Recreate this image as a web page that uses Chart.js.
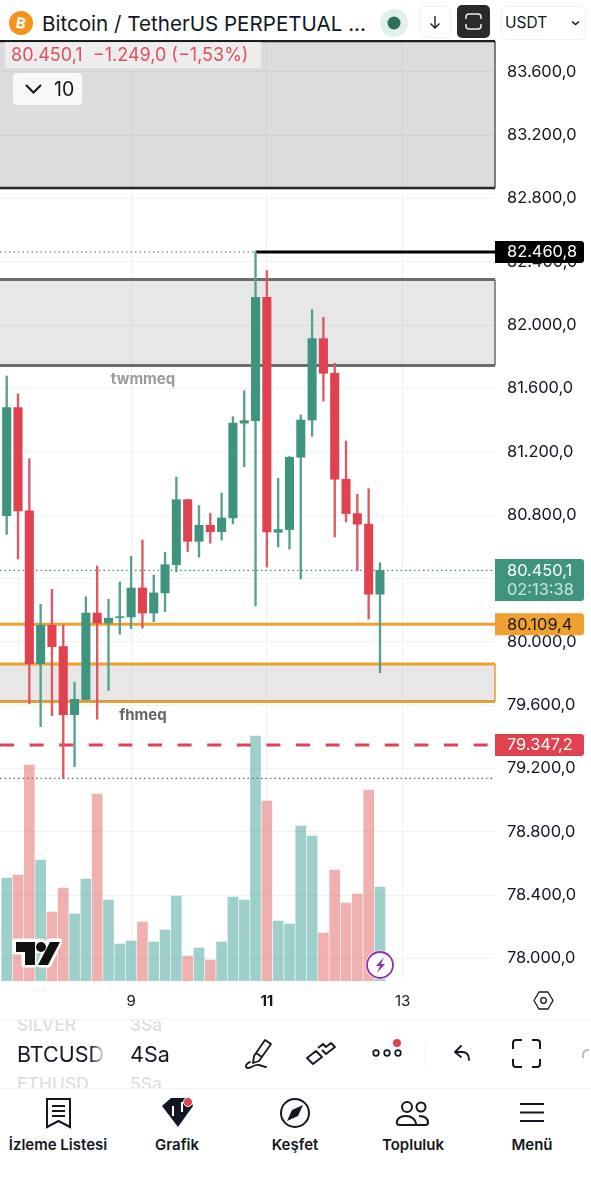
<!DOCTYPE html>
<html>
<head>
<meta charset="utf-8">
<title>BTC chart</title>
<script src="https://cdn.jsdelivr.net/npm/chart.js@4"></script>
<style>
    html, body { margin: 0; padding: 0; background: #fff; }
    body { width: 591px; height: 1200px; position: relative; overflow: hidden; font-family: Inter, sans-serif; color: #131722; }
    #chart { position: absolute; left: 0; top: 0; }
    .abs { position: absolute; white-space: nowrap; }
    .nav { position: absolute; top: 1135px; width: 120px; text-align: center; font-size: 15px; font-weight: 600; }
    .pale { color: #dcdcdc; font-size: 19px; font-weight: 500; }
</style>
</head>
<body>
<canvas id="chart" width="591" height="1020"></canvas>

<!-- header -->
<div class="abs" style="left:0;top:0;width:591px;height:40px;background:#fff"></div>
<svg class="abs" style="left:9px;top:11px" width="24" height="24"><circle cx="12" cy="12" r="12" fill="#f7931a"/><text x="12" y="17.5" fill="#fff" font-size="15" font-weight="700" text-anchor="middle" transform="rotate(12 12 12)">B</text></svg>
<div class="abs" style="left:42px;top:11px;font-size:20.6px;line-height:25px">Bitcoin / TetherUS PERPETUAL ...</div>
<svg class="abs" style="left:379px;top:9px" width="30" height="30"><circle cx="15" cy="14" r="14" fill="#e0f0ec"/><circle cx="15" cy="14" r="6.5" fill="#2b6e5c"/></svg>
<svg class="abs" style="left:419px;top:6px" width="32" height="32"><rect x=".5" y=".5" width="31" height="31" rx="5" fill="#fff" stroke="#f0f0f0"/><path d="M16 10v12M11.500 17.500l4.500 4.500 4.500-4.500" fill="none" stroke="#131722" stroke-width="1.300"/></svg>
<svg class="abs" style="left:457px;top:5px" width="33" height="33"><rect width="33" height="33" rx="5" fill="#2a2a2a"/><path d="M9 14v-2a3 3 0 0 1 3-3h9a3 3 0 0 1 3 3v2M9 19v2a3 3 0 0 0 3 3h9a3 3 0 0 0 3-3v-2" fill="none" stroke="#eee" stroke-width="1.500"/></svg>
<svg class="abs" style="left:501px;top:6px" width="85" height="34"><rect x=".5" y=".5" width="84" height="33" rx="5" fill="#fff" stroke="#f0f0f0"/><path d="M71 15.500l3.500 3 3.500-3" fill="none" stroke="#131722" stroke-width="1.500"/></svg>
<div class="abs" style="left:505px;top:13px;font-size:15.5px;line-height:20px">USDT</div>

<!-- status rows -->
<div class="abs" style="left:5px;top:42px;width:256px;height:26px;background:rgba(240,240,240,.85)"></div>
<div class="abs" style="left:11px;top:44px;font-size:18px;line-height:22px;color:#e0505c">80.450,1&nbsp; −1.249,0 (−1,53%)</div>
<div class="abs" style="left:13px;top:73px;width:69px;height:32px;background:#f8f8f8;border-radius:4px"></div>
<svg class="abs" style="left:24px;top:82px" width="20" height="14"><path d="M2 3l7.500 7.500L17 3" fill="none" stroke="#131722" stroke-width="2"/></svg>
<div class="abs" style="left:54px;top:78px;font-size:19.5px;line-height:22px">10</div>

<!-- watermark logo and bolt -->
<svg class="abs" style="left:12px;top:938px" width="50" height="31"><path d="M3 3h19v24h-10V14H3zM30 3l-4 0a5 5 0 1 0 4 0zM37 3h11L37 27H27z" fill="#fff" stroke="#fff" stroke-width="5" stroke-linejoin="round"/><path d="M4 4h19v23h-10V14H4z" fill="#111"/><circle cx="29" cy="9" r="5" fill="#111"/><path d="M38 4h10L36 27H26z" fill="#111"/></svg>
<svg class="abs" style="left:365px;top:950px" width="30" height="30"><circle cx="15" cy="15" r="14.500" fill="#fff"/><circle cx="15" cy="15" r="13" fill="#fff" stroke="#8e2fb0" stroke-width="1.800"/><path d="M19 7l-8 9h4l-3 7 8-9h-4z" fill="#8e2fb0"/></svg>

<!-- settings hex -->
<svg class="abs" style="left:533px;top:990px" width="21" height="21"><path d="M6 2h9l5 8.500-5 8.500H6L1 10.500z" fill="none" stroke="#131722" stroke-width="1.300" stroke-linejoin="round"/><circle cx="10.500" cy="10.500" r="2.800" fill="none" stroke="#131722" stroke-width="1.300"/></svg>

<!-- toolbar -->
<div class="abs" style="left:0;top:1019px;width:591px;height:1px;background:#f2f2f2"></div>
<div class="abs" style="left:0;top:1088px;width:591px;height:1px;background:#f2f2f2"></div>
<div class="abs" style="left:0;top:1020px;width:240px;height:68px;overflow:hidden">
    <div class="abs pale" style="left:17px;top:-7px;font-size:17.500px;line-height:24px;color:#dedede">SILVER</div>
    <div class="abs pale" style="left:130px;top:-7px;font-size:17.500px;line-height:24px;color:#dedede">3Sa</div>
    <div class="abs" style="left:17px;top:21px;width:89px;overflow:hidden;font-size:21.500px;line-height:26px;-webkit-mask-image:linear-gradient(90deg,#000 82%,transparent)">BTCUSD</div>
    <div class="abs" style="left:130px;top:21px;font-size:21.500px;line-height:26px">4Sa</div>
    <div class="abs pale" style="left:17px;top:52px;width:89px;overflow:hidden;font-size:17.500px;line-height:24px;color:#dedede;-webkit-mask-image:linear-gradient(90deg,#000 82%,transparent)">ETHUSD</div>
    <div class="abs pale" style="left:130px;top:52px;font-size:17.500px;line-height:24px;color:#dedede">5Sa</div>
</div>
<svg class="abs" style="left:242px;top:1035px" width="349" height="40" fill="none" stroke="#131722">
    <!-- pen -->
    <path d="M23 5l6 4-12 17-6 2 1-7zM14 18l6 4" stroke-width="1.800" stroke-linejoin="round"/>
    <path d="M8 27c-5 2-5 6-2 6 4 0 6-4 11-3 3 .5 5 2 7 2" stroke-width="1.800" stroke-linecap="round"/>
    <!-- line tools -->
    <path d="M65 23l9-7 6 6-9 7-6-6zM80 15l4 4 9-7-4-4-5 4-3-3-5 4" stroke-width="1.800" stroke-linejoin="round"/>
    <!-- more -->
    <circle cx="134" cy="18" r="2.800" stroke-width="1.700"/><circle cx="145" cy="18" r="2.800" stroke-width="1.700"/><circle cx="156" cy="18" r="2.800" stroke-width="1.700"/>
    <circle cx="155" cy="8" r="4" fill="#e0434f" stroke="none"/>
    <path d="M183 8v25" stroke="#f2f2f2"/>
    <!-- undo -->
    <path d="M219 11l-6 6 6 5M213 17h7c4 0 7 2 7 8" stroke-width="1.800" stroke-linecap="round" stroke-linejoin="round"/>
    <!-- fullscreen -->
    <path d="M271 14V8a3 3 0 0 1 3-3h6M290 5h5a3 3 0 0 1 3 3v6M298 24v5a3 3 0 0 1-3 3h-5M280 32h-6a3 3 0 0 1-3-3v-5" stroke-width="2"/>
    <path d="M341 23v-3c0-3 2-5 6-5" stroke="#bbb" stroke-width="1.800"/>
</svg>

<!-- bottom nav -->
<svg class="abs" style="left:0;top:1092px" width="591" height="40" fill="none" stroke="#131722" stroke-width="2">
    <path d="M47 7h23v28l-11.500-6L47 35zM52 14h13M52 19h13M52 24h13"/>
    <path d="M162 14l9-8h19l3 8-15 21z" fill="#131722" stroke="none"/>
    <path d="M173 14v10M182 10v10" stroke="#fff" stroke-width="2"/>
    <circle cx="188" cy="10" r="4.500" fill="#e0434f" stroke="#fff" stroke-width="1"/>
    <circle cx="295" cy="21" r="14"/>
    <path d="M303 13l-11 5-5 11 11-5z" fill="#131722" stroke="none"/>
    <circle cx="407" cy="15" r="5"/><circle cx="421" cy="15" r="4.500"/>
    <path d="M399 33c-4 0-3-9 7-9 5 0 10 3 10 9zM419 24c6 0 9 2 9 7 0 1-1 2-3 2h-8"/>
    <path d="M520 12h24M520 20.500h24M520 29h24"/>
</svg>
<div class="nav" style="left:-2px">İzleme Listesi</div>
<div class="nav" style="left:117px">Grafik</div>
<div class="nav" style="left:235px">Keşfet</div>
<div class="nav" style="left:353px">Topluluk</div>
<div class="nav" style="left:472px">Menü</div>

<script>
// candle data, oldest first, one candle every 4 hours
const opens  = [80796,81478,80826,79861,80104,79969,79539,79636,80181,80118,80152,80156,80339,80181,80308,80486,80897,80634,80735,80695,80781,81380,81396,82175,80691,80708,81165,81400,81914,81695,81026,80809,80742,80300];
const highs  = [81678,81565,81156,80236,80331,80106,79744,80284,80478,80268,80377,80539,80642,80421,80565,81040,80901,80860,80811,80939,81421,81585,82460.8,82343,81032,81169,81432,82097,82049,81758,81268,80931,80966,80499];
const lows   = [80678,80522,79609,79463,79533,79137,79211,79631,79510,79693,80047,80082,80085,80126,80190,80442,80569,80533,80622,80642,80744,81105,80226,80470,80598,80584,80396,81297,81520,80661,80756,80449,80143,79804];
const closes = [81478,80826,79861,80104,79969,79539,79636,80181,80118,80148,80158,80339,80181,80308,80486,80897,80634,80735,80695,80781,81380,81396,82175,80693,80708,81165,81400,81914,81695,81026,80809,80742,80300,80450.1];
const volumes = [103,106,216,121,69,93,67,102,187,81,37,40,59,39,51,85,25,33,21,39,84,81,245,180,60,57,155,145,48,111,78,87,191,94];

// axes
const priceTicks = [78000,78400,78800,79200,79600,80000,80400,80800,81200,81600,82000,82400,82800,83200,83600];
const dayTicks = [11, 23, 35];
const dayLabels = ['9', '11', '13'];

// zones and levels on the chart
const zoneTops    = [83794, 82287, 79859];
const zoneBottoms = [82865, 81744, 79622];
const orangeLevel = 80109.4;
const redLevel = 79347.2;
const highLevel = 82460.8;
const lowLevel = 79137;
const lastPrice = 80450.1;
const highIndex = 22;

const zoneNames = ['twmmeq', 'fhmeq'];
const zoneNamePrices = [81653, 79531];

const tagValues = [highLevel, lastPrice, orangeLevel, redLevel];

const GREEN = '#3f947f';
const RED = '#e0434f';
const ORANGE = '#f0a02f';
const X_MIN = -0.592, X_MAX = 43.17;
const PRICE_MIN = 77857, PRICE_MAX = 83800;

function formatPrice(v) {
    const [a, b] = v.toFixed(1).split('.');
    return a.slice(0, -3) + '.' + a.slice(-3) + ',' + b;
}

function levelLine(y, color, width, extra) {
    return Object.assign({
        type: 'line', data: [{ x: X_MIN, y: y }, { x: X_MAX, y: y }],
        borderColor: color, borderWidth: width, pointRadius: 0, clip: false, order: 5
    }, extra || {});
}

const isUp = opens.map((o, i) => closes[i] >= o);

const datasets = [
    // zones, top edge fills down to the bottom edge
    levelLine(zoneTops[0], '#1c1c1c', 2.5, { fill: '+1', backgroundColor: 'rgba(110,110,110,0.24)', order: 6 }),
    levelLine(zoneBottoms[0], '#1c1c1c', 2.5, { order: 6 }),
    levelLine(zoneTops[1], '#6c6c6c', 3, { fill: '+1', backgroundColor: 'rgba(110,110,110,0.17)', order: 6 }),
    levelLine(zoneBottoms[1], '#6c6c6c', 3, { order: 6 }),
    levelLine(zoneTops[2], ORANGE, 3, { fill: '+1', backgroundColor: 'rgba(110,110,110,0.17)', order: 6 }),
    levelLine(zoneBottoms[2], ORANGE, 3, { order: 6 }),
    // right edge of the zones
    { type: 'line', data: [{ x: X_MAX, y: zoneTops[0] }, { x: X_MAX, y: zoneBottoms[0] }], borderColor: '#555', borderWidth: 1.5, pointRadius: 0, clip: false, order: 6 },
    { type: 'line', data: [{ x: X_MAX, y: zoneTops[1] }, { x: X_MAX, y: zoneBottoms[1] }], borderColor: '#6c6c6c', borderWidth: 1.5, pointRadius: 0, clip: false, order: 6 },
    { type: 'line', data: [{ x: X_MAX, y: zoneTops[2] }, { x: X_MAX, y: zoneBottoms[2] }], borderColor: ORANGE, borderWidth: 1.5, pointRadius: 0, clip: false, order: 6 },

    levelLine(orangeLevel, ORANGE, 3),
    levelLine(redLevel, RED, 3, { borderDash: [14, 15.6] }),
    levelLine(lowLevel, '#666', 1.2, { borderDash: [1.5, 3] }),
    levelLine(lastPrice, '#3f8f7d', 1.2, { borderDash: [1.5, 3] }),
    { type: 'line', data: [{ x: X_MIN, y: highLevel }, { x: highIndex, y: highLevel }], borderColor: '#777', borderWidth: 1.2, borderDash: [1.5, 3], pointRadius: 0, order: 5 },
    { type: 'line', data: [{ x: highIndex, y: highLevel }, { x: X_MAX, y: highLevel }], borderColor: '#000', borderWidth: 3, pointRadius: 0, clip: false, order: 5 },

    // volume
    {
        type: 'bar', yAxisID: 'yVol', grouped: false, order: 3, barThickness: 10,
        data: volumes.map((v, i) => ({ x: i, y: v })),
        backgroundColor: isUp.map(u => u ? 'rgba(63,160,150,0.5)' : 'rgba(224,90,90,0.48)')
    },
    // wicks, a bit lighter than the bodies
    {
        type: 'bar', grouped: false, order: 2, barThickness: 1.7,
        data: highs.map((h, i) => ({ x: i, y: [lows[i], h] })),
        backgroundColor: isUp.map(u => u ? '#5a9f8e' : '#dc5a65')
    },
    // bodies
    {
        type: 'bar', grouped: false, order: 1, barThickness: 8.4,
        data: opens.map((o, i) => ({ x: i, y: [o, closes[i]] })),
        backgroundColor: isUp.map(u => u ? GREEN : RED)
    }
];

// zone names and the price tags on the axis
const overlayPlugin = {
    id: 'overlay',
    afterDraw(chart) {
        const ctx = chart.ctx;
        const y = chart.scales.y;
        const x = chart.scales.x;
        ctx.save();

        ctx.font = '700 15px Inter';
        ctx.textAlign = 'center';
        ctx.textBaseline = 'middle';
        ctx.fillStyle = '#9a9a9a';
        ctx.fillText(zoneNames[0], x.getPixelForValue(12.05), y.getPixelForValue(zoneNamePrices[0]));
        ctx.fillStyle = '#666';
        ctx.fillText(zoneNames[1], x.getPixelForValue(12.05), y.getPixelForValue(zoneNamePrices[1]));

        ctx.font = '16.4px Inter';
        ctx.textAlign = 'left';
        const styles = [['#000', '#fff'], [GREEN, '#fff'], [ORANGE, '#1a1a1a'], [RED, '#fff']];
        tagValues.forEach((v, i) => {
            const py = y.getPixelForValue(v);
            ctx.fillStyle = styles[i][0];
            ctx.beginPath();
            if (v === lastPrice) {
                ctx.roundRect(495, py - 11.5, 89, 42, [0, 3, 3, 0]);
                ctx.fill();
                ctx.fillStyle = '#fff';
                ctx.fillText(formatPrice(v), 507, py + 0.5);
                ctx.fillStyle = '#c9e6de';
                ctx.fillText('02:13:38', 507, py + 19.5);
            } else {
                ctx.roundRect(495, py - 11, 89, 22, [0, 3, 3, 0]);
                ctx.fill();
                ctx.fillStyle = styles[i][1];
                ctx.fillText(formatPrice(v), 507, py + 0.5);
            }
        });
        ctx.restore();
    }
};

new Chart(document.getElementById('chart').getContext('2d'), {
    type: 'bar',
    data: { datasets: datasets },
    plugins: [overlayPlugin],
    options: {
        responsive: false,
        animation: false,
        events: [],
        layout: { padding: { top: 40, left: 0, right: 0, bottom: 0 } },
        plugins: { legend: { display: false }, tooltip: { enabled: false } },
        elements: { line: { tension: 0 } },
        scales: {
            x: {
                type: 'linear', min: X_MIN, max: X_MAX, offset: false,
                border: { display: false },
                grid: { color: '#f1f1f1', drawTicks: false, offset: false },
                afterBuildTicks: s => { s.ticks = dayTicks.map(v => ({ value: v })); },
                afterFit: s => { s.height = 39; },
                ticks: {
                    autoSkip: false, maxRotation: 0, padding: 11, color: '#131722',
                    font: c => ({ family: 'Inter', size: 15, weight: c.index === 1 ? 700 : 400 }),
                    callback: (v, i) => dayLabels[i]
                }
            },
            y: {
                position: 'right', min: PRICE_MIN, max: PRICE_MAX,
                border: { display: false },
                grid: { color: '#f1f1f1', drawTicks: false },
                afterBuildTicks: s => { s.ticks = priceTicks.map(v => ({ value: v })); },
                afterFit: s => { s.width = 96; },
                ticks: {
                    autoSkip: false, padding: 12, color: '#131722',
                    font: { family: 'Inter', size: 16.4 },
                    callback: v => formatPrice(v)
                }
            },
            yVol: {
                display: false, min: 0, max: 941
            }
        }
    }
});
</script>
</body>
</html>
